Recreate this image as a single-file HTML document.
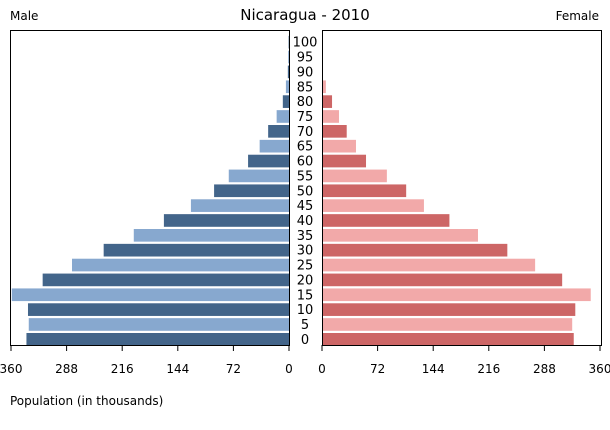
<!DOCTYPE html>
<html><head><meta charset="utf-8"><style>
body{margin:0;background:#fff;font-family:"Liberation Sans","DejaVu Sans",sans-serif}
</style></head><body>
<svg id="c" width="610" height="425" xmlns="http://www.w3.org/2000/svg" font-family="DejaVu Sans, Liberation Sans, sans-serif">
<text x="305" y="20" text-anchor="middle" font-size="15">Nicaragua - 2010</text>
<text x="10" y="20" font-size="12">Male</text>
<text x="599" y="20" font-size="12" text-anchor="end">Female</text>
<text x="10" y="405" font-size="12">Population (in thousands)</text>
<g id="bars"></g>
<rect x="10.5" y="30.5" width="279" height="315" fill="none" stroke="#000"/>
<rect x="322.5" y="30.5" width="279" height="315" fill="none" stroke="#000"/>
<g id="axes"></g>
</svg>
<script>
const ages=[0,5,10,15,20,25,30,35,40,45,50,55,60,65,70,75,80,85,90,95,100];
const male=[340,337,338,359,319,281,240,201,162,127,97,78,53,38,27,16,8,4,1.5,1,0.5];
const female=[326,324,328,348,311,276,240,202,165,132,109,84,57,44,32,22,13,5,1,0.5,0.2];
const ticks=[0,72,144,216,288,360];
const NS="http://www.w3.org/2000/svg";
const k=278/360;
const xm=v=>289-v*k, xf=v=>322+v*k;
const pitch=312/21;
const rowTop=i=>333-i*pitch;
const bars=document.getElementById('bars'),axes=document.getElementById('axes');
function mk(tag,attrs,parent){const e=document.createElementNS(NS,tag);for(const a in attrs)e.setAttribute(a,attrs[a]);parent.appendChild(e);return e;}
ages.forEach((a,i)=>{
  const y=rowTop(i),h=pitch-2.2;
  const dark=i%2===0;
  const m=mk('rect',{x:xm(male[i]),y:y,width:male[i]*k,height:h,fill:dark?'#43658a':'#87a8cf'},bars);
  
  
  const f=mk('rect',{x:322,y:y,width:female[i]*k,height:h,fill:dark?'#cd6666':'#f2a9a9'},bars);
  
  
  const t=mk('text',{x:305,y:y+h/2+4.5,'text-anchor':'middle','font-size':13},bars);
  t.textContent=a;
  
  
});
ticks.forEach(v=>{
  [[xm(v),'male'],[xf(v),'female']].forEach(([x,s])=>{
    const l=mk('line',{x1:x,x2:x,y1:345,y2:351,stroke:'#000'},axes);
    
    
    const t=mk('text',{x:x,y:373,'text-anchor':'middle','font-size':12},axes);
    t.textContent=v;
    
    
  });
});
</script>
</body></html>
